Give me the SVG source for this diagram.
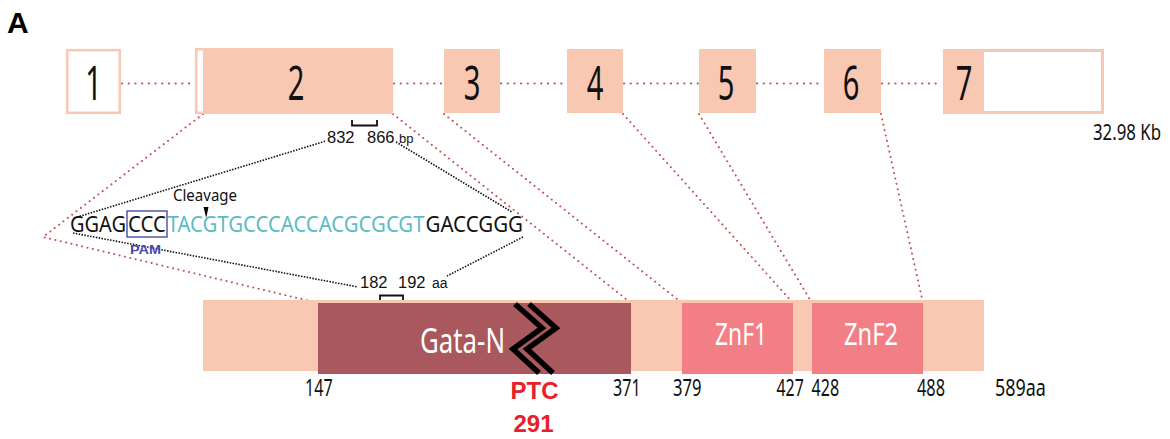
<svg xmlns="http://www.w3.org/2000/svg" width="1170" height="439" viewBox="0 0 1170 439">
  <defs>
    <style>
      .exon { fill: #f9c8b3; }
      .utr { fill: #ffffff; }
      .intron { stroke: #b9545b; stroke-width: 2.2; stroke-linecap: round; stroke-dasharray: 0.1 6.6; fill: none; }
      .map { stroke: #c2545c; stroke-width: 2; stroke-linecap: round; stroke-dasharray: 0.1 5.4; fill: none; }
      .zoom { stroke: #111111; stroke-width: 1.6; stroke-dasharray: 1.5 1.4; fill: none; }
      .num { font-family: "Noto Sans", "Open Sans", sans-serif; fill: #111111; }
      .helv { font-family: "Liberation Sans", Arial, sans-serif; fill: #111111; }
      .dom { font-family: "Noto Sans", "Open Sans", sans-serif; fill: #ffffff; }
      .seq { font-family: "Noto Sans", "Open Sans", sans-serif; font-size: 21px; }
    </style>
  </defs>

  <rect width="1170" height="439" fill="#ffffff"/>

  <!-- panel letter -->
  <text x="7" y="33" font-family="Liberation Sans, Arial, sans-serif" font-weight="bold" font-size="30" fill="#000">A</text>

  <!-- connectors: introns, exon-to-domain mapping, sequence zoom -->
  <g id="connectors">
    <path class="intron" d="M122,83.5 H194 M394,83.5 H443 M501,83.5 H566 M624,83.5 H698 M757,83.5 H823 M882,83.5 H942"/>
    <path class="map" d="M203,114 L43,237 L318,303"/>
    <path class="map" d="M393,114 L631,303"/>
    <path class="map" d="M444,114 L682,303"/>
    <path class="map" d="M623,114 L793,303"/>
    <path class="map" d="M699,114 L812,303"/>
    <path class="map" d="M881,114 L923,303"/>
    <path class="zoom" d="M74,218 L326,141"/>
    <path class="zoom" d="M396,142 L512,212"/>
    <path class="zoom" d="M73,233 L358,287"/>
    <path class="zoom" d="M523,237 L447,276"/>
  </g>

  <!-- gene structure -->
  <g id="exon1">
    <rect x="67.2" y="50.2" width="52.6" height="62.6" fill="#fff" stroke="#f9c8b3" stroke-width="2.5"/>
    <text class="num" font-size="47" text-anchor="middle" transform="translate(93.5,100) scale(0.62,1)">1</text>
  </g>
  <g id="exon2">
    <rect class="exon" x="195" y="48" width="198" height="66"/>
    <rect class="utr" x="197.5" y="50.5" width="5.5" height="61"/>
    <text class="num" font-size="47" text-anchor="middle" transform="translate(296,100) scale(0.62,1)">2</text>
  </g>
  <g id="exon3">
    <rect class="exon" x="444" y="49" width="56" height="64"/>
    <text class="num" font-size="47" text-anchor="middle" transform="translate(472,100) scale(0.62,1)">3</text>
  </g>
  <g id="exon4">
    <rect class="exon" x="567" y="49" width="56" height="64"/>
    <text class="num" font-size="47" text-anchor="middle" transform="translate(595,100) scale(0.62,1)">4</text>
  </g>
  <g id="exon5">
    <rect class="exon" x="699" y="49" width="57" height="64"/>
    <text class="num" font-size="47" text-anchor="middle" transform="translate(726,100) scale(0.62,1)">5</text>
  </g>
  <g id="exon6">
    <rect class="exon" x="824" y="49" width="57" height="64"/>
    <text class="num" font-size="47" text-anchor="middle" transform="translate(851,100) scale(0.62,1)">6</text>
  </g>
  <g id="exon7">
    <rect class="exon" x="943" y="49" width="161" height="65"/>
    <rect class="utr" x="984" y="52" width="117" height="59"/>
    <text class="num" font-size="47" text-anchor="middle" transform="translate(964,100) scale(0.62,1)">7</text>
  </g>
  <g id="gene-length">
    <text class="num" font-size="21" transform="translate(1093,140) scale(0.8,1)">32.98 Kb</text>
  </g>

  <!-- target site coordinates on exon 2 -->
  <g id="bp-range">
    <path d="M352,120 V125.5 H377 V120" fill="none" stroke="#111" stroke-width="1.8"/>
    <text class="helv" x="327" y="143" font-size="16.5">832</text>
    <text class="helv" x="367" y="143" font-size="16.5">866</text>
    <text class="helv" x="399" y="143" font-size="13">bp</text>
  </g>

  <!-- sgRNA target sequence -->
  <g id="target-sequence">
    <text class="seq" x="70" y="232" fill="#111" textLength="56" lengthAdjust="spacingAndGlyphs">GGAG</text>
    <text class="seq" x="128" y="232" fill="#111" textLength="38" lengthAdjust="spacingAndGlyphs">CCC</text>
    <text class="seq" x="167.5" y="232" fill="#5bbcc6" textLength="257" lengthAdjust="spacingAndGlyphs">TACGTGCCCACCACGCGCGT</text>
    <text class="seq" x="425.5" y="232" fill="#111" textLength="97.5" lengthAdjust="spacingAndGlyphs">GACCGGG</text>
    <rect x="127" y="211" width="40" height="26" fill="none" stroke="#4a4aa6" stroke-width="1.4"/>
    <text x="130" y="254" font-family="Liberation Sans, Arial, sans-serif" font-weight="bold" font-size="13" fill="#4848b0" textLength="31" lengthAdjust="spacingAndGlyphs">PAM</text>
  </g>
  <g id="cleavage">
    <text class="num" x="173" y="201" font-size="16.5" textLength="64" lengthAdjust="spacingAndGlyphs">Cleavage</text>
    <polygon points="203.5,207 208.5,207 206.2,218" fill="#000"/>
  </g>

  <!-- protein coordinates of the target -->
  <g id="aa-range">
    <path d="M380,302 V295.5 H403 V302" fill="none" stroke="#111" stroke-width="1.8"/>
    <text class="helv" x="360" y="288" font-size="16.5">182</text>
    <text class="helv" x="398" y="288" font-size="16.5">192</text>
    <text class="helv" x="432" y="288" font-size="14">aa</text>
  </g>

  <!-- protein domains -->
  <g id="protein">
    <rect class="exon" x="203" y="300" width="781" height="71"/>
  </g>
  <g id="gata-n">
    <rect x="318" y="303" width="313" height="71" fill="#a9585d"/>
    <text class="dom" x="420" y="353" font-size="35" textLength="85" lengthAdjust="spacingAndGlyphs">Gata-N</text>
  </g>
  <g id="znf1">
    <rect x="682" y="303" width="111" height="71" fill="#f17f85"/>
    <text class="dom" x="715" y="345" font-size="30" textLength="52" lengthAdjust="spacingAndGlyphs">ZnF1</text>
  </g>
  <g id="znf2">
    <rect x="812" y="303" width="111" height="71" fill="#f17f85"/>
    <text class="dom" x="844" y="345" font-size="30" textLength="54" lengthAdjust="spacingAndGlyphs">ZnF2</text>
  </g>
  <g id="ptc">
    <polyline points="515,304 542,328 513,349 539,373" fill="none" stroke="#000" stroke-width="5.5"/>
    <polyline points="529,304 556,328 527,349 553,373" fill="none" stroke="#000" stroke-width="5.5"/>
    <text x="534.5" y="399" text-anchor="middle" font-family="Liberation Sans, Arial, sans-serif" font-weight="bold" font-size="24" fill="#e8202a">PTC</text>
    <text x="533.5" y="432" text-anchor="middle" font-family="Liberation Sans, Arial, sans-serif" font-weight="bold" font-size="24" fill="#e8202a">291</text>
  </g>

  <!-- domain boundaries -->
  <g id="positions">
    <text class="num" font-size="23" transform="translate(305,396) scale(0.7,1)">147</text>
    <text class="num" font-size="23" transform="translate(613,396) scale(0.7,1)">371</text>
    <text class="num" font-size="23" transform="translate(673,396) scale(0.72,1)">379</text>
    <text class="num" font-size="23" transform="translate(776.5,396) scale(0.69,1)">427</text>
    <text class="num" font-size="23" transform="translate(811.5,396) scale(0.7,1)">428</text>
    <text class="num" font-size="23" transform="translate(917,396) scale(0.71,1)">488</text>
    <text class="num" font-size="23" transform="translate(995,396) scale(0.78,1)">589aa</text>
  </g>
</svg>
